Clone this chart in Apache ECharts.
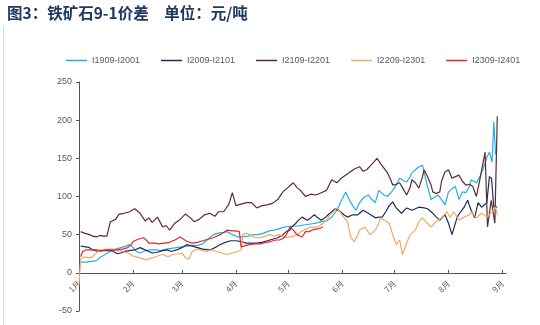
<!DOCTYPE html>
<html>
<head>
<meta charset="utf-8">
<script src="https://cdn.jsdelivr.net/npm/echarts@6/dist/echarts.min.js"></script>
<style>
  html, body { margin: 0; padding: 0; background: #fff; }
  #chart { width: 540px; height: 325px; }
</style>
</head>
<body>
<div id="chart"></div>
<script>
// Day offsets (from 1 Jan) where each month starts, and their labels
const monthStarts = [0, 31, 59, 90, 120, 151, 181, 212, 243];
const monthLabels = ['1月', '2月', '3月', '4月', '5月', '6月', '7月', '8月', '9月'];
const yTicks = { min: -50, max: 250, step: 50 };

const seriesNames = ['I1909-I2001', 'I2009-I2101', 'I2109-I2201', 'I2209-I2301', 'I2309-I2401'];
const seriesColors = ['#25aee3', '#1f2d5c', '#5c2b2b', '#f3a867', '#e4262a'];

// [day of year, spread in 元/吨]
const s1909 = [[1,14],[4,14],[7,15],[10,16],[12,20],[15,24],[18,28],[21,31],[24,33],[27,35],[29,37],[31,33],[33,28],[35,26],[38,29],[41,30],[44,30],[47,29],[50,31],[53,32],[56,33],[59,34],[62,35],[65,36],[68,36],[71,38],[74,44],[77,50],[80,52],[83,53],[85,54],[88,50],[91,47],[94,47],[97,48],[100,50],[103,50],[106,52],[109,55],[112,56],[115,58],[118,60],[121,61],[124,61],[127,62],[130,63],[133,64],[136,65],[139,67],[142,68],[145,73],[148,82],[150,92],[153,106],[155,96],[157,88],[159,82],[161,92],[163,98],[166,102],[168,96],[170,92],[172,108],[175,102],[177,100],[180,108],[182,115],[184,124],[186,121],[188,119],[190,126],[191,131],[193,135],[195,139],[197,141],[200,113],[202,96],[204,99],[206,102],[208,96],[210,89],[212,106],[214,110],[216,113],[218,96],[220,106],[222,105],[224,113],[225,122],[228,118],[230,126],[232,137],[234,151],[235.5,158],[237,145],[238,198],[239,155]];

const s2009 = [[1,35],[4,34],[6,33],[8,30],[11,28],[14,29],[17,29],[19,29],[22,25],[24,26],[26,28],[29,29],[32,30],[35,33],[37,31],[40,28],[42,26],[45,27],[48,29],[51,30],[53,28],[56,30],[59,33],[62,37],[65,35],[68,33],[71,31],[75,30],[78,33],[81,37],[84,40],[87,42],[90,42],[93,41],[96,39],[99,39],[102,39],[105,40],[108,42],[111,44],[114,46],[117,50],[119,54],[121,56],[122,60],[124,64],[126,69],[128,73],[131,69],[133,72],[135,76],[137,72],[139,69],[141,72],[143,76],[145,80],[147,84],[150,80],[152,76],[154,73],[157,76],[160,76],[163,82],[166,78],[168,75],[170,72],[172,73],[174,73],[176,80],[178,88],[180,93],[182,85],[185,78],[188,85],[191,82],[193,84],[195,86],[198,85],[200,84],[203,78],[205,73],[207,69],[210,76],[212,65],[214,50],[217,73],[219,80],[221,86],[223,95],[225,82],[227,72],[229,92],[231,86],[234,92],[235.5,126],[236.7,124],[238,86],[240,86]];

const s2109 = [[1,54],[3,52],[6,50],[8,48],[10,47],[12,49],[14,48],[16,48],[18,67],[21,70],[23,77],[26,78],[29,80],[32,84],[35,78],[38,68],[40,72],[42,66],[45,73],[48,60],[50,62],[52,56],[55,65],[58,70],[61,77],[64,72],[66,67],[69,70],[72,76],[75,78],[78,74],[80,80],[83,80],[86,90],[88,105],[90,88],[93,90],[96,92],[99,92],[102,85],[105,88],[108,89],[111,91],[114,96],[117,106],[120,112],[123,118],[125,112],[127,108],[130,100],[133,103],[136,102],[139,105],[142,108],[145,122],[148,118],[151,125],[155,131],[158,136],[161,139],[163,133],[165,135],[168,142],[171,150],[174,140],[177,131],[179,121],[180,115],[182,116],[184,118],[186,110],[188,102],[190,112],[191,122],[193,118],[195,111],[197,125],[198,135],[200,126],[202,115],[203,106],[205,104],[207,106],[208,120],[210,132],[212,135],[214,124],[216,126],[218,128],[220,120],[222,115],[224,116],[226,113],[228,100],[230,122],[233,158],[234.4,60],[236.5,95],[238.6,65],[240,205]];

const s2209 = [[0,-15],[1,18],[3,21],[5,20],[7,20],[9,24],[11,28],[13,30],[16,31],[19,31],[22,29],[25,28],[28,26],[31,22],[33,21],[36,19],[38,17],[41,19],[43,20],[46,23],[48,24],[51,21],[54,24],[57,25],[59,26],[61,20],[63,18],[65,28],[68,31],[71,29],[73,28],[76,30],[79,28],[82,26],[85,24],[88,26],[91,28],[93,30],[94,50],[96,52],[98,50],[100,47],[103,46],[106,47],[109,50],[112,48],[115,50],[118,46],[120,47],[122,47],[125,50],[129,56],[131,58],[133,60],[137,60],[140,65],[142,69],[144,76],[146,80],[148,85],[151,76],[154,67],[156,46],[158,41],[160,50],[161,56],[164,60],[167,50],[170,56],[172,65],[173,72],[175,69],[178,65],[180,50],[182,37],[184,43],[185.6,24],[188,39],[190,50],[193,56],[195,67],[197,72],[199,67],[202,60],[205,67],[208,72],[211,80],[213,73],[215,80],[218,69],[221,73],[224,76],[225,80],[228,72],[231,78],[234,73],[237,80],[239,86],[240,76]];

const s2309 = [[1,21],[2,28],[4,30],[7,30],[10,30],[13,29],[16,30],[19,30],[22,30],[25,31],[28,33],[30,37],[31,41],[34,44],[37,46],[39,42],[40,39],[43,39],[46,38],[49,39],[52,40],[55,43],[58,47],[60,44],[62,41],[65,39],[68,40],[71,42],[74,44],[77,46],[79,48],[81,50],[83,53],[85,56],[88,55],[90,55],[92,54],[93,34],[96,36],[98,37],[101,38],[104,38],[107,40],[110,41],[113,43],[115,43],[117,45],[119,50],[121,60],[123,56],[125,50],[128,47],[130,54],[132,54],[135,57],[138,58],[140,60]];

const seriesData = [s1909, s2009, s2109, s2209, s2309];

const chart = echarts.init(document.getElementById('chart'), null, { renderer: 'canvas' });

const axisColor = '#44546a';
const labelColor = '#595959';
const baseFont = 'Liberation Sans, Arial, sans-serif';

chart.setOption({
  animation: false,
  backgroundColor: '#ffffff',
  title: {
    text: '图3：铁矿石9-1价差\u3000单位：元/吨',
    left: 7,
    top: 5,
    padding: 0,
    textStyle: {
      fontFamily: 'Noto Sans CJK SC',
      fontSize: 15.5,
      fontWeight: 'bold',
      color: '#203864'
    }
  },
  graphic: [{
    type: 'line',
    shape: { x1: 3.5, y1: 27, x2: 3.5, y2: 325 },
    style: { stroke: '#d9d9d9', lineWidth: 1 }
  }],
  legend: {
    left: 61,
    top: 51,
    icon: 'rect',
    itemWidth: 21,
    itemHeight: 1.5,
    itemGap: 21,
    textStyle: { fontFamily: baseFont, fontSize: 9, color: labelColor },
    data: seriesNames
  },
  grid: {
    left: 79, right: 34, top: 82, bottom: 14,
    containLabel: false,
    outerBoundsMode: 'none'
  },
  xAxis: {
    type: 'value',
    min: 0,
    max: 245,
    splitLine: { show: false },
    axisLine: { onZero: true, lineStyle: { color: axisColor, width: 1 } },
    axisTick: {
      show: true,
      inside: true,
      length: 3,
      customValues: monthStarts,
      lineStyle: { color: axisColor }
    },
    axisLabel: {
      customValues: monthStarts,
      rotate: 45,
      margin: -29,
      fontFamily: 'Noto Sans CJK SC',
      fontSize: 8,
      color: labelColor,
      formatter: function (v) {
        const i = monthStarts.indexOf(v);
        return i >= 0 ? monthLabels[i] : '';
      }
    }
  },
  yAxis: {
    type: 'value',
    min: yTicks.min,
    max: yTicks.max,
    interval: yTicks.step,
    splitLine: { show: false },
    axisLine: { show: true, lineStyle: { color: axisColor, width: 1 } },
    axisTick: { show: true, length: 3, lineStyle: { color: axisColor } },
    axisLabel: { fontFamily: baseFont, fontSize: 9, color: labelColor, margin: 7 }
  },
  series: seriesNames.map(function (name, i) {
    return {
      name: name,
      type: 'line',
      data: seriesData[i],
      showSymbol: false,
      symbol: 'none',
      lineStyle: { width: 1.2, color: seriesColors[i] },
      itemStyle: { color: seriesColors[i] }
    };
  })
});
</script>
</body>
</html>
